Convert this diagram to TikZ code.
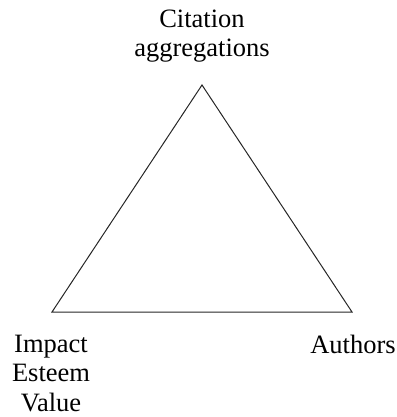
\documentclass[tikz,border=0pt]{standalone}
\usepackage{fontspec}
\setmainfont{Liberation Serif}

\begin{document}
\begin{tikzpicture}[
    x=1pt, y=-1pt,
    every node/.style={align=center, inner sep=0pt, font=\fontsize{26.5}{29.5}\selectfont},
    side/.style={line width=1pt, draw=black!85}
]
\useasboundingbox (0,0) rectangle (396,417);

% Corners
\coordinate (apex) at (202,85);
\coordinate (left) at (52,312);
\coordinate (right) at (352,312);

% Labels
\node [anchor=base] (citation) at (202,57) {Citation\\aggregations};
\node [anchor=base] (impact) at (51,411) {Impact\\Esteem\\Value};
\node [anchor=base] (authors) at (353,353) {Authors};

% Edges
\draw [side] (apex) -- (left) -- (right) -- cycle;

\end{tikzpicture}
\end{document}
